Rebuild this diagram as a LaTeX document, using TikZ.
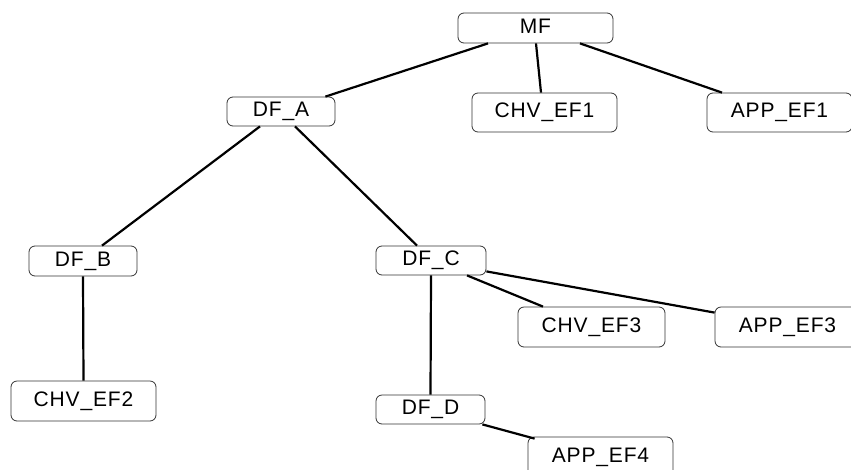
\documentclass[tikz,border=0pt]{standalone}
\usepackage{fontspec}
\setmainfont{Liberation Sans}
\usepackage{tikz}
\definecolor{edge}{HTML}{000000}
\definecolor{frame}{HTML}{333333}
\tikzset{
  fileBox/.style={draw=frame, line width=0.8pt, rounded corners=6pt, inner sep=0pt,
    font=\fontsize{21}{25}\selectfont\addfontfeatures{LetterSpace=4}, minimum height=29pt},
  link/.style={draw=edge, line width=2.2pt}
}
\begin{document}
\begin{tikzpicture}[x=1pt, y=-1pt]
  \useasboundingbox (0,0) rectangle (851,469);
  \clip (0,0) rectangle (851,469);

  \node[fileBox, minimum width=155pt, minimum height=30pt] (MF) at (535.5,28) {\raisebox{3pt}{MF}};
  \node[fileBox, minimum width=145pt, minimum height=39pt] (CHV1) at (544.5,112.5) {CHV\_EF1};
  \node[fileBox, minimum width=145pt, minimum height=39pt] (APP1) at (779.5,112.5) {APP\_EF1};
  \node[fileBox, minimum width=108pt] (DFA) at (281,111.5) {DF\_A};
  \node[fileBox, minimum width=108pt, minimum height=30pt] (DFB) at (83,261) {DF\_B};
  \node[fileBox, minimum width=110pt] (DFC) at (431,260.5) {DF\_C};
  \node[fileBox, minimum width=145pt, minimum height=40pt] (CHV2) at (83.5,401) {CHV\_EF2};
  \node[fileBox, minimum width=147pt, minimum height=40pt] (CHV3) at (591.5,327) {CHV\_EF3};
  \node[fileBox, minimum width=145pt, minimum height=40pt] (APP3) at (787.5,327) {APP\_EF3};
  \node[fileBox, minimum width=109pt] (DFD) at (430.5,409.5) {DF\_D};
  \node[fileBox, minimum width=145pt, minimum height=40pt] (APP4) at (600.5,457) {APP\_EF4};

  % links from the master file
  \draw[link] ([xshift=-47.5pt]MF.south) -- ([xshift=-10pt]DFA.north east);
  \draw[link] ([xshift=0.5pt]MF.south) -- ([xshift=-3.5pt]CHV1.north);
  \draw[link] ([xshift=44.5pt]MF.south) -- ([xshift=-57.5pt]APP1.north);

  % links below DF_A
  \draw[link] ([xshift=-21pt]DFA.south) -- ([xshift=19pt]DFB.north);
  \draw[link] ([xshift=14pt]DFA.south) -- ([xshift=-14pt]DFC.north);
  \draw[link] (DFB.south) -- (CHV2.north);

  % links below DF_C
  \draw[link] ([xshift=36pt]DFC.south) -- ([xshift=-48.5pt]CHV3.north);
  \draw[link] ([yshift=4pt]DFC.south east) -- ([yshift=-6pt]APP3.north west);
  \draw[link] (DFC.south) -- (DFD.north);
  \draw[link] ([xshift=-3pt]DFD.south east) -- ([xshift=7pt,yshift=-2pt]APP4.north west);
\end{tikzpicture}
\end{document}
